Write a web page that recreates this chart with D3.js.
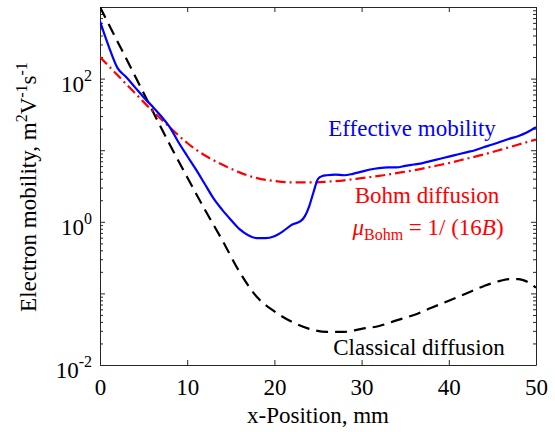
<!DOCTYPE html>
<meta charset='utf-8'>
<html>
  <head>
    <script src="https://d3js.org/d3.v7.min.js"></script>
  </head>
  <body style="margin:0;background:#fff;">
    <div class="chart_div"></div>
    <script>
        // x positions, mm
        var xEff = [0,0.5,1,2,3,4,5,6,7,8,9,10,11,12,13,14,15,16,17,18,19,20,21,22,23,23.5,24,24.5,25,25.5,26,27,28,29,30,31,32,33,34,35,36,37,38,39,40,41,42,43,44,45,46,47,48,49,50]
        var effective = [631,417,282,141,105,76,55,41,30,21,12.9,8.3,5.4,3.4,2.14,1.48,1.07,0.79,0.65,0.59,0.59,0.63,0.74,0.91,1.02,1.2,1.66,2.63,3.98,4.37,4.47,4.57,4.47,4.68,5.01,5.37,5.62,5.75,5.75,6.03,6.31,6.61,7.08,7.59,8.13,8.71,9.33,10.0,11.0,12.0,13.2,14.5,15.8,17.8,20.9]

        var xBohm = [0,2,4,6,8,10,12,14,16,18,20,22,24,26,28,30,32,34,36,38,40,42,44,46,48,50]
        var bohm = [200,112,63,35.5,20.9,12.6,8.5,6.3,4.9,4.07,3.72,3.55,3.55,3.63,3.8,4.07,4.37,4.79,5.25,5.89,6.61,7.59,8.71,10.2,12.0,14.1]

        var xClass = [0,2,4,6,8,10,12,14,16,18,20,22,24,26,28,30,32,34,36,38,40,42,44,46,47,48,49,50]
        var classical = [1000,331,110,36,12,4.2,1.5,0.56,0.2,0.089,0.056,0.04,0.032,0.029,0.029,0.032,0.035,0.042,0.05,0.063,0.079,0.1,0.126,0.151,0.158,0.158,0.145,0.12]

        var xTicks = [0,10,20,30,40,50]
        var yTicks = [0.01,0.1,1,10,100,1000]
        var yLabelExp = ['-2','0','2']   // labelled decades

        var margin = { top: 7, right: 19, bottom: 67, left: 100 }
        var W = 555, H = 432
        var w = W - margin.left - margin.right
        var h = H - margin.top - margin.bottom
        var axisColor = '#262626'
        var serif = "'Times New Roman'"

        var svg = d3.select('.chart_div').append('svg')
            .attr('width', W)
            .attr('height', H)
        var g = svg.append('g')
            .attr('transform', 'translate(' + margin.left + ',' + margin.top + ')')

        // Scales
        var xScale = d3.scaleLinear().domain([0, 50]).range([0, w])
        var yScale = d3.scaleLog().domain([0.01, 1000]).range([h, 0])

        // minor ticks 2..9 of each decade
        var minor = []
        for (var e = -2; e < 3; e++) {
            for (var k = 2; k < 10; k++) minor.push(k * Math.pow(10, e))
        }

        function styleAxis(sel) {
            sel.selectAll('path').attr('stroke', axisColor).attr('stroke-width', 1)
            sel.selectAll('line').attr('stroke', axisColor).attr('stroke-width', 1)
        }

        // bottom axis
        var xAxis = g.append('g')
            .attr('transform', 'translate(0,' + h + ')')
            .call(d3.axisBottom(xScale).tickValues(xTicks).tickSizeInner(-5).tickSizeOuter(0))
        styleAxis(xAxis)
        xAxis.selectAll('text')
            .style('font-family', serif)
            .style('font-size', '23px')
            .attr('fill', '#000')
            .attr('y', 30)
            .attr('dy', 0)
        // top axis
        var xTop = g.append('g')
            .call(d3.axisTop(xScale).tickValues(xTicks).tickSizeInner(-5).tickSizeOuter(0).tickFormat(''))
        styleAxis(xTop)

        // left axis, major and minor
        var yAxis = g.append('g')
            .call(d3.axisLeft(yScale).tickValues(yTicks).tickSizeInner(-5).tickSizeOuter(0).tickFormat(''))
        styleAxis(yAxis)
        g.append('g')
            .call(d3.axisLeft(yScale).tickValues(minor).tickSizeInner(-3).tickSizeOuter(0).tickFormat(''))
            .call(styleAxis)
            .select('path').remove()
        // right axis
        var yRight = g.append('g')
            .attr('transform', 'translate(' + w + ',0)')
            .call(d3.axisRight(yScale).tickValues(yTicks).tickSizeInner(-5).tickSizeOuter(0).tickFormat(''))
        styleAxis(yRight)
        g.append('g')
            .attr('transform', 'translate(' + w + ',0)')
            .call(d3.axisRight(yScale).tickValues(minor).tickSizeInner(-3).tickSizeOuter(0).tickFormat(''))
            .call(styleAxis)
            .select('path').remove()

        // y tick labels 10^n
        yLabelExp.forEach(function (ex) {
            var y = yScale(Math.pow(10, +ex))
            var t = g.append('text')
                .attr('x', -8)
                .attr('y', y + 13)
                .attr('text-anchor', 'end')
                .style('font-family', serif)
                .style('font-size', '23px')
                .attr('fill', '#000')
            t.append('tspan').text('10')
            t.append('tspan').attr('dy', -11).style('font-size', '16px').text(ex)
        })

        // lines
        var line = d3.line()
            .x(function (d) { return xScale(d[0]) })
            .y(function (d) { return yScale(d[1]) })
            .curve(d3.curveMonotoneX)

        var clip = g.append('clipPath').attr('id', 'clip')
            .append('rect').attr('width', w).attr('height', h)
        var plot = g.append('g').attr('clip-path', 'url(#clip)')

        plot.append('path')
            .datum(d3.zip(xClass, classical))
            .attr('d', line)
            .attr('fill', 'none')
            .attr('stroke', '#000')
            .attr('stroke-width', 2.2)
            .attr('stroke-dasharray', '12,7')

        plot.append('path')
            .datum(d3.zip(xBohm, bohm))
            .attr('d', line)
            .attr('fill', 'none')
            .attr('stroke', '#ff0000')
            .attr('stroke-width', 2.2)
            .attr('stroke-dasharray', '10,4,2,4')

        plot.append('path')
            .datum(d3.zip(xEff, effective))
            .attr('d', line)
            .attr('fill', 'none')
            .attr('stroke', '#0000ff')
            .attr('stroke-width', 2.2)

        // annotations
        function note(x, y, color) {
            return g.append('text')
                .attr('x', x - margin.left).attr('y', y - margin.top)
                .attr('text-anchor', 'middle')
                .style('font-family', serif)
                .style('font-size', '23px')
                .attr('fill', color)
        }
        note(412, 136, '#0000ff').text('Effective mobility')
        note(427, 203, '#ff0000').text('Bohm diffusion')
        var mu = note(428, 235, '#ff0000')
        mu.append('tspan').style('font-style', 'italic').text('μ')
        mu.append('tspan').attr('dy', 5).style('font-size', '16px').text('Bohm')
        mu.append('tspan').attr('dy', -5).text(' = 1/ (16')
        mu.append('tspan').style('font-style', 'italic').text('B')
        mu.append('tspan').text(')')
        note(419, 355, '#000').text('Classical diffusion')

        // axis titles
        svg.append('text')
            .attr('x', 318).attr('y', 423)
            .attr('text-anchor', 'middle')
            .style('font-family', serif)
            .style('font-size', '23px')
            .attr('fill', '#000')
            .text('x-Position, mm')

        var yl = svg.append('text')
            .attr('transform', 'translate(36,187) rotate(-90)')
            .attr('text-anchor', 'middle')
            .style('font-family', serif)
            .style('font-size', '23px')
            .attr('fill', '#000')
        yl.append('tspan').text('Electron mobility, m')
        yl.append('tspan').attr('dy', -9).style('font-size', '16px').text('2')
        yl.append('tspan').attr('dy', 9).text('V')
        yl.append('tspan').attr('dy', -9).style('font-size', '16px').text('-1')
        yl.append('tspan').attr('dy', 9).text('s')
        yl.append('tspan').attr('dy', -9).style('font-size', '16px').text('-1')
    </script>
  </body>
</html>
